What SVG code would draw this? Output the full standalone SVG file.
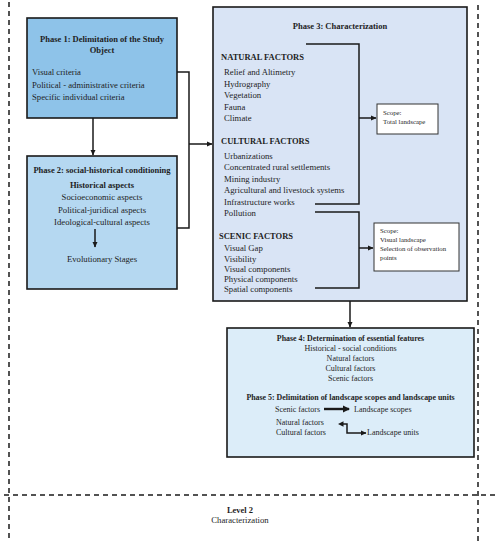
<svg xmlns="http://www.w3.org/2000/svg" width="498" height="550" viewBox="0 0 498 550">
<defs>
<style>
text{font-family:"Liberation Serif","Times New Roman",serif;fill:#1e1e1e;}
.t{font-size:8.7px;}
.tb{font-size:8.5px;font-weight:bold;}
.t4{font-size:8px;}
.tb4{font-size:7.9px;font-weight:bold;}
.s{font-size:6.8px;}
.m{text-anchor:middle;}
.box{stroke:#1a1a1a;stroke-width:1.6;}
.ln{fill:none;stroke:#1a1a1a;stroke-width:1.5;}
.dash{fill:none;stroke:#1a1a1a;stroke-width:1.5;stroke-dasharray:5,4;}
</style>
<marker id="ah" markerWidth="6" markerHeight="6" refX="5" refY="3" orient="auto" markerUnits="userSpaceOnUse">
<path d="M0,0.5 L5.5,3 L0,5.5 Z" fill="#1a1a1a"/>
</marker>
<marker id="ahb" markerWidth="8" markerHeight="8" refX="6" refY="4" orient="auto" markerUnits="userSpaceOnUse">
<path d="M0,0.5 L7,4 L0,7.5 Z" fill="#1a1a1a"/>
</marker>
</defs>
<rect width="498" height="550" fill="#ffffff"/>

<g id="frame">
<line x1="9" y1="2" x2="9" y2="542" class="dash"/>
<line x1="478" y1="5" x2="478" y2="542" class="dash"/>
<line x1="4" y1="495" x2="496" y2="495" class="dash"/>
</g>

<g id="phase1">
<rect x="27" y="18" width="150" height="100" fill="#8ec3e9" class="box"/>
<text x="102" y="42" class="tb m">Phase 1: Delimitation of the Study</text>
<text x="102" y="53" class="tb m">Object</text>
<text x="32" y="75" class="t">Visual criteria</text>
<text x="32" y="88" class="t">Political - administrative criteria</text>
<text x="32" y="100" class="t">Specific individual criteria</text>
</g>

<g id="phase2">
<rect x="27" y="156" width="150" height="133" fill="#b5d8f1" class="box"/>
<text x="102" y="173" class="tb m">Phase 2: social-historical conditioning</text>
<text x="102" y="188" class="tb m">Historical aspects</text>
<text x="102" y="200" class="t m">Socioeconomic aspects</text>
<text x="102" y="213" class="t m">Political-juridical aspects</text>
<text x="102" y="225" class="t m">Ideological-cultural aspects</text>
<text x="102" y="262" class="t m">Evolutionary Stages</text>
</g>

<g id="phase3">
<rect x="213" y="7" width="254" height="294" fill="#d9e4f5" class="box"/>
<text x="340" y="29" class="tb m">Phase 3: Characterization</text>
<text x="221" y="60" class="tb">NATURAL FACTORS</text>
<text x="224" y="75" class="t">Relief and Altimetry</text>
<text x="224" y="87" class="t">Hydrography</text>
<text x="224" y="98" class="t">Vegetation</text>
<text x="224" y="110" class="t">Fauna</text>
<text x="224" y="121" class="t">Climate</text>
<text x="221" y="144" class="tb">CULTURAL FACTORS</text>
<text x="224" y="159" class="t">Urbanizations</text>
<text x="224" y="170" class="t">Concentrated rural settlements</text>
<text x="224" y="182" class="t">Mining industry</text>
<text x="224" y="193" class="t">Agricultural and livestock systems</text>
<text x="224" y="205" class="t">Infrastructure works</text>
<text x="224" y="216" class="t">Pollution</text>
<text x="219" y="239" class="tb">SCENIC FACTORS</text>
<text x="224" y="251" class="t">Visual Gap</text>
<text x="224" y="262" class="t">Visibility</text>
<text x="224" y="272" class="t">Visual components</text>
<text x="224" y="282" class="t">Physical components</text>
<text x="224" y="292" class="t">Spatial components</text>
</g>

<g id="scope1">
<rect x="377" y="104" width="61" height="30" fill="#ffffff" stroke="#333" stroke-width="1"/>
<text x="383" y="115" class="s">Scope:</text>
<text x="383" y="124" class="s">Total landscape</text>
</g>

<g id="scope2">
<rect x="374" y="223" width="85" height="48" fill="#ffffff" stroke="#333" stroke-width="1"/>
<text x="380" y="233" class="s">Scope:</text>
<text x="380" y="242" class="s">Visual landscape</text>
<text x="380" y="251" class="s">Selection of observation</text>
<text x="380" y="260" class="s">points</text>
</g>

<g id="phase45">
<rect x="227" y="328" width="247" height="129" fill="#dcedf9" class="box"/>
<text x="350.5" y="341" class="tb4 m">Phase 4: Determination of essential features</text>
<text x="350.5" y="351" class="t4 m">Historical - social conditions</text>
<text x="350.5" y="361" class="t4 m">Natural factors</text>
<text x="350.5" y="371" class="t4 m">Cultural factors</text>
<text x="350.5" y="381" class="t4 m">Scenic factors</text>
<text x="350.5" y="400" class="tb4 m">Phase 5: Delimitation of landscape scopes and landscape units</text>
<text x="275" y="412" class="t4">Scenic factors</text>
<text x="354" y="412" class="t4">Landscape scopes</text>
<text x="276" y="425" class="t4">Natural factors</text>
<text x="276" y="435" class="t4">Cultural factors</text>
<text x="367" y="435" class="t4">Landscape units</text>
</g>

<g id="level2">
<text x="240" y="513" class="tb m">Level 2</text>
<text x="240" y="523" class="t m">Characterization</text>
</g>

<g id="connectors">
<line x1="93" y1="118" x2="93" y2="155" class="ln" marker-end="url(#ah)"/>
<polyline points="177,72 189,72 189,228 177,228" class="ln"/>
<line x1="189" y1="144" x2="212" y2="144" class="ln" marker-end="url(#ah)"/>
<line x1="95" y1="229" x2="95" y2="247" class="ln" marker-end="url(#ah)"/>
<polyline points="306,44 359,44 359,204 315,204" class="ln"/>
<line x1="359" y1="118" x2="376" y2="118" class="ln" marker-end="url(#ah)"/>
<polyline points="315,212 359,212 359,288 315,288" class="ln"/>
<line x1="359" y1="248" x2="373" y2="248" class="ln" marker-end="url(#ah)"/>
<line x1="350" y1="301" x2="350" y2="327" class="ln" marker-end="url(#ah)"/>
<line x1="324" y1="409" x2="349" y2="409" fill="none" stroke="#1a1a1a" stroke-width="2.4" marker-end="url(#ahb)"/>
<polyline points="341,424 347,424 347,433 366,433" class="ln" marker-end="url(#ah)"/>
<path d="M338,424 L343.5,421.3 L343.5,426.7 Z" fill="#1a1a1a"/>
</g>
</svg>
